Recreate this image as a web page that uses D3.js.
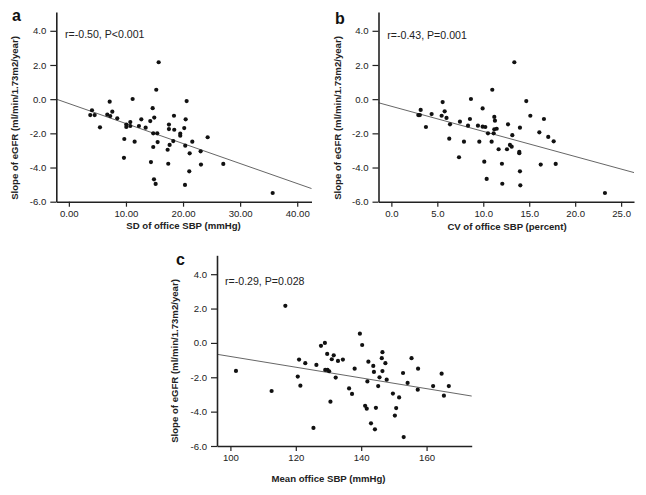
<!DOCTYPE html>
<html>
<head>
<meta charset="utf-8">
<script src="https://cdn.jsdelivr.net/npm/d3@7"></script>
<style>
  body { margin: 0; background: #fff; }
  svg { display: block; font-family: "Liberation Sans", Arial, sans-serif; }
</style>
</head>
<body>
<svg id="chart" width="646" height="495"></svg>
<script>
// panel a: SD of office SBP vs eGFR slope
const sdSBP = [4.05, 3.75, 4.52, 5.45, 6.73, 7.15, 7.25, 7.61, 8.48, 9.71, 9.65, 10.06, 10.06, 10.76, 10.76,
  11.17, 11.52, 12.69, 12.28, 13.45, 14.26, 14.68, 14.96, 14.78, 14.78, 14.38, 14.91, 15.2, 15.31, 15.73,
  15.48, 15.55, 17.3, 17.53, 17.53, 17.65, 17.41, 18.41, 18.46, 18.29, 19.51, 19.51, 20.21, 20.46, 20.63,
  20.39, 20.34, 21.16, 21.09, 21.62, 23.08, 23.14, 24.31, 27.05, 35.7];
const slopeA = [-0.65, -0.93, -0.93, -1.65, -0.91, -0.15, -0.99, -0.73, -1.12, -2.33, -3.43, -1.49, -1.63, -1.34, -1.57,
  0.01, -2.49, -1.18, -1.57, -1.67, -1.28, -0.53, -1.08, -2.0, -2.8, -3.68, -4.69, -4.96, 0.55, 2.16,
  -2.0, -2.51, -2.96, -1.49, -1.75, -2.68, -3.78, -0.97, -1.79, -2.45, -2.02, -2.14, -1.69, -1.18, -0.11,
  -2.72, -5.02, -3.17, -4.22, -2.49, -3.05, -3.83, -2.23, -3.79, -5.49];

// panel b: CV of office SBP vs eGFR slope
const cvSBP = [2.93, 3.1, 3.19, 3.76, 4.38, 5.47, 5.58, 5.8, 6.0, 6.38, 6.3, 7.46, 7.36, 7.9, 8.34,
  8.55, 8.66, 9.42, 9.57, 9.93, 9.93, 10.22, 10.11, 10.37, 10.51, 10.91, 10.98, 11.13, 11.2, 11.27,
  11.2, 11.46, 11.67, 12.03, 12.07, 12.58, 12.69, 12.9, 13.09, 13.16, 13.38, 13.99, 13.92, 13.92, 13.99,
  14.03, 14.68, 15.12, 16.1, 16.25, 16.6, 17.07, 17.66, 17.88, 23.24];
const slopeB = [-0.93, -0.93, -0.63, -1.63, -0.87, -0.97, -0.17, -0.71, -1.1, -1.47, -2.31, -1.32, -3.4, -2.49, -1.55,
  -1.16, 0.01, -1.55, -2.49, -1.61, -0.54, -1.63, -3.66, -4.67, -2.0, -2.49, 0.55, -2.0, -1.04, -1.26,
  -1.76, -1.73, -2.93, -3.78, -4.95, -2.93, -1.47, -2.68, -2.78, -2.11, 2.16, -1.67, -3.09, -3.16, -4.22,
  -5.04, -0.11, -0.97, -1.94, -3.83, -1.16, -2.21, -2.47, -3.79, -5.49];

// panel c: mean office SBP vs eGFR slope
const meanSBP = [101.7, 112.6, 116.8, 120.6, 121.0, 121.4, 122.9, 125.4, 126.3, 127.7, 128.9, 129.6, 129.0, 129.7, 130.2,
  131.0, 131.6, 130.6, 132.2, 132.9, 134.4, 136.3, 137.2, 138.0, 139.6, 140.3, 141.2, 141.7, 141.9, 142.2,
  143.0, 143.7, 143.9, 144.2, 144.5, 145.2, 145.6, 146.3, 146.5, 146.5, 147.4, 147.8, 149.7, 150.3, 150.7,
  151.6, 152.8, 153.0, 154.2, 155.4, 157.3, 157.4, 162.0, 164.6, 165.3, 166.8];
const slopeC = [-1.63, -2.8, 2.16, -1.96, -0.97, -2.49, -1.18, -4.95, -1.28, -0.17, 0.0, -0.64, -1.57, -1.57, -1.65,
  -0.95, -0.72, -3.42, -2.02, -1.05, -0.97, -2.65, -2.97, -1.5, 0.54, -0.12, -3.66, -3.83, -2.24, -1.09,
  -4.68, -1.34, -1.69, -5.03, -3.78, -2.51, -2.0, -0.89, -0.54, -1.64, -1.18, -2.14, -2.95, -4.23, -3.79,
  -3.17, -1.75, -5.48, -2.33, -0.89, -2.72, -1.5, -2.51, -1.79, -3.07, -2.51];

// fitted regression lines
const fitA = { intercept: -0.257, slope: -0.117 };
const fitB = { intercept: -0.416, slope: -0.147 };
const fitC = { intercept: 2.33, slope: -0.0312 };

const yTicks = [-6, -4, -2, 0, 2, 4];
const xTicksA = [0, 10, 20, 30, 40];
const xTicksB = [0, 5, 10, 15, 20, 25];
const xTicksC = [100, 120, 140, 160];

const yTitle = "Slope of eGFR (ml/min/1.73m2/year)";

const panels = [
  { letter: "a", xs: sdSBP, ys: slopeA, fit: fitA, xTicks: xTicksA, fmt: ".2f",
    xDomain: [-2.2, 42.5], left: 56.3, right: 311.5, top: 12, bottom: 201.7,
    note: "r=-0.50, P<0.001", noteX: 65, noteY: 37.5,
    xTitle: "SD of office SBP (mmHg)", xTitleX: 183.5, xTitleY: 229,
    yTitleX: 17.5, yTitleY: 118, letterX: 12, letterY: 21 },
  { letter: "b", xs: cvSBP, ys: slopeB, fit: fitB, xTicks: xTicksB, fmt: ".1f",
    xDomain: [-1.4, 26.4], left: 378.5, right: 634, top: 12, bottom: 201.7,
    note: "r=-0.43, P=0.001", noteX: 387.3, noteY: 39,
    xTitle: "CV of office SBP (percent)", xTitleX: 507, xTitleY: 230,
    yTitleX: 340.5, yTitleY: 118, letterX: 335, letterY: 24 },
  { letter: "c", xs: meanSBP, ys: slopeC, fit: fitC, xTicks: xTicksC, fmt: "d",
    xDomain: [95.9, 173.8], left: 217, right: 471.7, top: 255.3, bottom: 446,
    note: "r=-0.29, P=0.028", noteX: 225, noteY: 285,
    xTitle: "Mean office SBP (mmHg)", xTitleX: 328.5, xTitleY: 481.5,
    yTitleX: 177.5, yTitleY: 361, letterX: 176, letterY: 265 }
];

const svg = d3.select("#chart");
svg.append("rect").attr("width", 646).attr("height", 495).attr("fill", "#fff");

const hyphen = f => v => f(v).replace("\u2212", "-");

panels.forEach(p => {
  const x = d3.scaleLinear().domain(p.xDomain).range([p.left, p.right]);
  const y = d3.scaleLinear().domain([-6, 5.1]).range([p.bottom, p.top]);
  const g = svg.append("g");

  // regression line
  const fx = x.domain();
  g.append("line")
    .attr("x1", x(fx[0])).attr("y1", y(p.fit.intercept + p.fit.slope * fx[0]))
    .attr("x2", x(fx[1])).attr("y2", y(p.fit.intercept + p.fit.slope * fx[1]))
    .attr("stroke", "#555").attr("stroke-width", 0.9);

  g.selectAll("circle.pt")
    .data(p.xs.map((v, i) => [v, p.ys[i]]))
    .join("circle")
    .attr("class", "pt")
    .attr("cx", d => x(d[0]))
    .attr("cy", d => y(d[1]))
    .attr("r", 2.1)
    .attr("fill", "#111");

  const xAxis = g.append("g")
    .attr("transform", `translate(0,${p.bottom})`)
    .call(d3.axisBottom(x).tickValues(p.xTicks).tickFormat(hyphen(d3.format(p.fmt)))
      .tickSize(5).tickSizeOuter(0).tickPadding(3));
  const yAxis = g.append("g")
    .attr("transform", `translate(${p.left},0)`)
    .call(d3.axisLeft(y).tickValues(yTicks).tickFormat(hyphen(d3.format(".1f")))
      .tickSize(6).tickSizeOuter(0).tickPadding(4));

  [xAxis, yAxis].forEach(a => {
    a.select(".domain").attr("stroke", "#222").attr("stroke-width", 1.6);
    a.selectAll(".tick line").attr("stroke", "#222").attr("stroke-width", 1.2);
    a.selectAll(".tick text").attr("fill", "#222")
      .style("font-size", "9.6px").style("font-family", "'Liberation Sans', Arial, sans-serif");
  });

  g.append("text")
    .attr("x", p.noteX).attr("y", p.noteY)
    .attr("font-size", 10.6).attr("fill", "#222")
    .text(p.note);

  g.append("text")
    .attr("x", p.xTitleX).attr("y", p.xTitleY)
    .attr("text-anchor", "middle")
    .attr("font-size", 9.6).attr("font-weight", "bold").attr("fill", "#222")
    .text(p.xTitle);

  g.append("text")
    .attr("transform", `translate(${p.yTitleX},${p.yTitleY}) rotate(-90)`)
    .attr("text-anchor", "middle")
    .attr("font-size", 9.6).attr("font-weight", "bold").attr("fill", "#222")
    .text(yTitle);

  g.append("text")
    .attr("x", p.letterX).attr("y", p.letterY)
    .attr("font-size", 16).attr("font-weight", "bold").attr("fill", "#111")
    .text(p.letter);
});
</script>
</body>
</html>
